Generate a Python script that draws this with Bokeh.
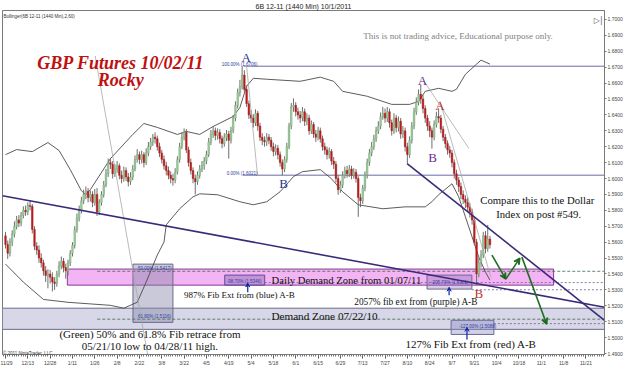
from bokeh.plotting import figure
from bokeh.models import (Range1d, FixedTicker, PrintfTickFormatter, Label,
                          Arrow, VeeHead, ColumnDataSource)
from bokeh.embed import file_html
from bokeh.resources import INLINE

# ---------------- daily OHLC, 6B 12-11, one entry per bar (bar 0 = 11/29/2010) ----------------
opens = [1.5640, 1.5585, 1.5530, 1.5600, 1.5650, 1.5700, 1.5740, 1.5720, 1.5770, 1.5800,
         1.5790, 1.5830, 1.5825, 1.5680, 1.5575, 1.5550, 1.5500, 1.5470, 1.5420, 1.5390,
         1.5400, 1.5380, 1.5350, 1.5340, 1.5400, 1.5450, 1.5480, 1.5440, 1.5420, 1.5470,
         1.5530, 1.5580, 1.5680, 1.5750, 1.5800, 1.5860, 1.5900, 1.5920, 1.5880, 1.5900,
         1.5850, 1.5900, 1.5790, 1.5850, 1.5900, 1.5960, 1.6030, 1.6100, 1.6090, 1.6030,
         1.6060, 1.6080, 1.6020, 1.6000, 1.6050, 1.6010, 1.5980, 1.6010, 1.6060, 1.6120,
         1.6150, 1.6120, 1.6150, 1.6100, 1.6160, 1.6200, 1.6230, 1.6260, 1.6250, 1.6200,
         1.6160, 1.6120, 1.6080, 1.6050, 1.6020, 1.6000, 1.5990, 1.6040, 1.6120, 1.6200,
         1.6260, 1.6290, 1.6180, 1.6100, 1.6050, 1.6000, 1.5980, 1.6020, 1.6060, 1.6080,
         1.6110, 1.6150, 1.6230, 1.6280, 1.6300, 1.6270, 1.6290, 1.6250, 1.6220, 1.6260,
         1.6280, 1.6240, 1.6300, 1.6380, 1.6460, 1.6540, 1.6580, 1.6650, 1.6560, 1.6470,
         1.6400, 1.6380, 1.6350, 1.6410, 1.6330, 1.6260, 1.6240, 1.6230, 1.6260, 1.6240,
         1.6200, 1.6170, 1.6190, 1.6150, 1.6100, 1.6060, 1.6120, 1.6200, 1.6330, 1.6450,
         1.6460, 1.6420, 1.6400, 1.6380, 1.6420, 1.6360, 1.6380, 1.6300, 1.6340, 1.6280,
         1.6260, 1.6300, 1.6250, 1.6200, 1.6180, 1.6150, 1.6170, 1.6110, 1.6090, 1.6000,
         1.5930, 1.5960, 1.6020, 1.6050, 1.6030, 1.6060, 1.6020, 1.6040, 1.6000, 1.5880,
         1.5860, 1.5940, 1.6020, 1.6100, 1.6160, 1.6200, 1.6250, 1.6300, 1.6330, 1.6390,
         1.6410, 1.6380, 1.6420, 1.6350, 1.6300, 1.6380, 1.6320, 1.6360, 1.6280, 1.6300,
         1.6200, 1.6150, 1.6240, 1.6330, 1.6420, 1.6480, 1.6530, 1.6500, 1.6440, 1.6380,
         1.6330, 1.6300, 1.6260, 1.6340, 1.6390, 1.6380, 1.6310, 1.6260, 1.6220, 1.6180,
         1.6160, 1.6100, 1.6030, 1.5990, 1.5950, 1.5900, 1.5870, 1.5850, 1.5820, 1.5790,
         1.5740, 1.5600, 1.5400, 1.5470, 1.5520, 1.5640, 1.5560, 1.5620]
highs = [1.5665, 1.5610, 1.5625, 1.5675, 1.5730, 1.5765, 1.5770, 1.5790, 1.5825, 1.5830,
         1.5850, 1.5865, 1.5840, 1.5700, 1.5600, 1.5580, 1.5530, 1.5490, 1.5450, 1.5430,
         1.5425, 1.5410, 1.5380, 1.5420, 1.5480, 1.5510, 1.5500, 1.5465, 1.5490, 1.5550,
         1.5600, 1.5700, 1.5780, 1.5830, 1.5885, 1.5930, 1.5950, 1.5940, 1.5925, 1.5920,
         1.5935, 1.5940, 1.5870, 1.5920, 1.5985, 1.6060, 1.6125, 1.6130, 1.6110, 1.6090,
         1.6110, 1.6095, 1.6050, 1.6075, 1.6070, 1.6035, 1.6040, 1.6085, 1.6145, 1.6185,
         1.6170, 1.6175, 1.6165, 1.6190, 1.6230, 1.6255, 1.6280, 1.6290, 1.6270, 1.6225,
         1.6180, 1.6145, 1.6105, 1.6075, 1.6045, 1.6030, 1.6065, 1.6140, 1.6225, 1.6290,
         1.6315, 1.6310, 1.6200, 1.6125, 1.6070, 1.6025, 1.6045, 1.6085, 1.6110, 1.6135,
         1.6175, 1.6255, 1.6305, 1.6330, 1.6320, 1.6315, 1.6310, 1.6270, 1.6285, 1.6305,
         1.6300, 1.6325, 1.6400, 1.6485, 1.6565, 1.6620, 1.6706, 1.6680, 1.6585, 1.6490,
         1.6430, 1.6405, 1.6435, 1.6425, 1.6350, 1.6285, 1.6265, 1.6285, 1.6280, 1.6260,
         1.6225, 1.6215, 1.6210, 1.6170, 1.6120, 1.6140, 1.6225, 1.6350, 1.6475, 1.6504,
         1.6480, 1.6445, 1.6425, 1.6450, 1.6440, 1.6410, 1.6400, 1.6365, 1.6355, 1.6305,
         1.6325, 1.6320, 1.6270, 1.6225, 1.6200, 1.6195, 1.6185, 1.6135, 1.6110, 1.6020,
         1.5985, 1.6045, 1.6075, 1.6080, 1.6085, 1.6080, 1.6065, 1.6060, 1.6015, 1.5905,
         1.5960, 1.6045, 1.6125, 1.6185, 1.6230, 1.6275, 1.6325, 1.6360, 1.6415, 1.6450,
         1.6440, 1.6450, 1.6440, 1.6370, 1.6410, 1.6400, 1.6390, 1.6380, 1.6330, 1.6320,
         1.6225, 1.6265, 1.6355, 1.6445, 1.6510, 1.6560, 1.6592, 1.6525, 1.6460, 1.6400,
         1.6360, 1.6320, 1.6365, 1.6420, 1.6441, 1.6400, 1.6330, 1.6280, 1.6240, 1.6205,
         1.6180, 1.6120, 1.6055, 1.6010, 1.5975, 1.5925, 1.5895, 1.5880, 1.5845, 1.5810,
         1.5760, 1.5620, 1.5500, 1.5550, 1.5665, 1.5670, 1.5708, 1.5640]
lows = [1.5560, 1.5495, 1.5510, 1.5575, 1.5630, 1.5680, 1.5695, 1.5700, 1.5750, 1.5765,
        1.5770, 1.5800, 1.5655, 1.5550, 1.5520, 1.5470, 1.5440, 1.5390, 1.5350, 1.5310,
        1.5340, 1.5290, 1.5300, 1.5320, 1.5380, 1.5430, 1.5410, 1.5370, 1.5390, 1.5450,
        1.5510, 1.5560, 1.5660, 1.5730, 1.5780, 1.5840, 1.5870, 1.5850, 1.5855, 1.5820,
        1.5830, 1.5765, 1.5770, 1.5830, 1.5880, 1.5945, 1.6010, 1.6060, 1.6000, 1.6010,
        1.6035, 1.5995, 1.5970, 1.5980, 1.5985, 1.5950, 1.5960, 1.5990, 1.6045, 1.6100,
        1.6090, 1.6095, 1.6070, 1.6085, 1.6140, 1.6180, 1.6205, 1.6220, 1.6175, 1.6135,
        1.6095, 1.6055, 1.6020, 1.5995, 1.5970, 1.5955, 1.5970, 1.6025, 1.6100, 1.6185,
        1.6240, 1.6160, 1.6075, 1.6025, 1.5970, 1.5900, 1.5960, 1.6000, 1.6040, 1.6055,
        1.6090, 1.6135, 1.6210, 1.6255, 1.6240, 1.6245, 1.6220, 1.6190, 1.6200, 1.6235,
        1.6125, 1.6220, 1.6285, 1.6360, 1.6440, 1.6515, 1.6560, 1.6540, 1.6450, 1.6375,
        1.6350, 1.6320, 1.6330, 1.6300, 1.6235, 1.6210, 1.6200, 1.6205, 1.6215, 1.6175,
        1.6140, 1.6145, 1.6120, 1.6075, 1.6021, 1.6040, 1.6100, 1.6185, 1.6310, 1.6420,
        1.6390, 1.6370, 1.6350, 1.6360, 1.6330, 1.6335, 1.6275, 1.6280, 1.6255, 1.6230,
        1.6240, 1.6225, 1.6175, 1.6150, 1.6120, 1.6125, 1.6085, 1.6060, 1.5975, 1.5898,
        1.5910, 1.5940, 1.6000, 1.6005, 1.6010, 1.5995, 1.6000, 1.5975, 1.5759, 1.5820,
        1.5840, 1.5920, 1.6000, 1.6080, 1.6140, 1.6180, 1.6230, 1.6280, 1.6310, 1.6370,
        1.6350, 1.6355, 1.6320, 1.6270, 1.6280, 1.6290, 1.6295, 1.6250, 1.6255, 1.6170,
        1.6094, 1.6130, 1.6220, 1.6310, 1.6400, 1.6460, 1.6470, 1.6410, 1.6350, 1.6300,
        1.6260, 1.6188, 1.6240, 1.6320, 1.6350, 1.6285, 1.6235, 1.6190, 1.6150, 1.6130,
        1.6070, 1.6000, 1.5960, 1.5915, 1.5870, 1.5840, 1.5815, 1.5790, 1.5755, 1.5710,
        1.5580, 1.5330, 1.5380, 1.5440, 1.5500, 1.5530, 1.5540, 1.5560]
closes = [1.5585, 1.5530, 1.5600, 1.5650, 1.5700, 1.5740, 1.5720, 1.5770, 1.5800, 1.5790,
          1.5830, 1.5825, 1.5680, 1.5575, 1.5550, 1.5500, 1.5470, 1.5420, 1.5390, 1.5400,
          1.5380, 1.5350, 1.5340, 1.5400, 1.5450, 1.5480, 1.5440, 1.5420, 1.5470, 1.5530,
          1.5580, 1.5680, 1.5750, 1.5800, 1.5860, 1.5900, 1.5920, 1.5880, 1.5900, 1.5850,
          1.5900, 1.5790, 1.5850, 1.5900, 1.5960, 1.6030, 1.6100, 1.6090, 1.6030, 1.6060,
          1.6080, 1.6020, 1.6000, 1.6050, 1.6010, 1.5980, 1.6010, 1.6060, 1.6120, 1.6150,
          1.6120, 1.6150, 1.6100, 1.6160, 1.6200, 1.6230, 1.6260, 1.6250, 1.6200, 1.6160,
          1.6120, 1.6080, 1.6050, 1.6020, 1.6000, 1.5990, 1.6040, 1.6120, 1.6200, 1.6260,
          1.6290, 1.6180, 1.6100, 1.6050, 1.6000, 1.5980, 1.6020, 1.6060, 1.6080, 1.6110,
          1.6150, 1.6230, 1.6280, 1.6300, 1.6270, 1.6290, 1.6250, 1.6220, 1.6260, 1.6280,
          1.6240, 1.6300, 1.6380, 1.6460, 1.6540, 1.6580, 1.6650, 1.6560, 1.6470, 1.6400,
          1.6380, 1.6350, 1.6410, 1.6330, 1.6260, 1.6240, 1.6230, 1.6260, 1.6240, 1.6200,
          1.6170, 1.6190, 1.6150, 1.6100, 1.6060, 1.6120, 1.6200, 1.6330, 1.6450, 1.6460,
          1.6420, 1.6400, 1.6380, 1.6420, 1.6360, 1.6380, 1.6300, 1.6340, 1.6280, 1.6260,
          1.6300, 1.6250, 1.6200, 1.6180, 1.6150, 1.6170, 1.6110, 1.6090, 1.6000, 1.5930,
          1.5960, 1.6020, 1.6050, 1.6030, 1.6060, 1.6020, 1.6040, 1.6000, 1.5880, 1.5860,
          1.5940, 1.6020, 1.6100, 1.6160, 1.6200, 1.6250, 1.6300, 1.6330, 1.6390, 1.6410,
          1.6380, 1.6420, 1.6350, 1.6300, 1.6380, 1.6320, 1.6360, 1.6280, 1.6300, 1.6200,
          1.6150, 1.6240, 1.6330, 1.6420, 1.6480, 1.6530, 1.6500, 1.6440, 1.6380, 1.6330,
          1.6300, 1.6260, 1.6340, 1.6390, 1.6380, 1.6310, 1.6260, 1.6220, 1.6180, 1.6160,
          1.6100, 1.6030, 1.5990, 1.5950, 1.5900, 1.5870, 1.5850, 1.5820, 1.5790, 1.5740,
          1.5600, 1.5400, 1.5470, 1.5520, 1.5640, 1.5560, 1.5620, 1.5584]

# ---------------- Bollinger band readings (bar index, price) ----------------
upper_bars = [0, 5, 12, 19, 24, 29, 34, 36, 38, 47, 57, 62, 68, 77, 81, 87, 93, 102, 105, 108,
              111, 117, 132, 141, 147, 151, 162, 173, 181, 185, 188, 194, 200, 202, 206, 211, 213, 217]
upper_band = [1.6150, 1.6182, 1.6169, 1.6226, 1.6176, 1.6056, 1.5923, 1.5898, 1.5930, 1.6125,
              1.6277, 1.6346, 1.6321, 1.6277, 1.6296, 1.6277, 1.6327, 1.6390, 1.6447, 1.6580,
              1.6630, 1.6624, 1.6611, 1.6637, 1.6611, 1.6548, 1.6517, 1.6466, 1.6466, 1.6485,
              1.6548, 1.6567, 1.6548, 1.6561, 1.6655, 1.6719, 1.6744, 1.6719]
lower_bars = [0, 8, 17, 28, 47, 53, 59, 63, 68, 71, 72, 78, 84, 87, 95, 105, 111, 117, 123, 129,
              133, 141, 146, 151, 158, 169, 179, 188, 191, 194, 200, 203, 206, 209, 212, 215, 217]
lower_band = [1.5462, 1.5349, 1.5240, 1.5222, 1.5203, 1.5185, 1.5222, 1.5349, 1.5519, 1.5601,
              1.5709, 1.5810, 1.5885, 1.5904, 1.5898, 1.5854, 1.5835, 1.5854, 1.5917, 1.6012,
              1.6043, 1.6056, 1.5999, 1.5917, 1.5835, 1.5810, 1.5822, 1.5822, 1.5854, 1.5898,
              1.5967, 1.5885, 1.5759, 1.5633, 1.5506, 1.5412, 1.5361]

# ---------------- axes ----------------
tick_bars = [0, 10, 20, 30, 40, 50, 60, 70, 80, 90, 100, 110, 120, 130, 140, 150, 160, 170,
             180, 190, 200, 210, 220, 230, 240, 250, 260]
tick_labels = ["11/29", "12/13", "12/28", "1/11", "1/26", "2/8", "2/22", "3/8", "3/22", "4/5",
               "4/19", "5/4", "5/18", "6/1", "6/15", "6/29", "7/13", "7/27", "8/10", "8/24",
               "9/7", "9/21", "10/4", "10/18", "11/1", "11/8", "11/21"]
price_ticks = [1.49, 1.50, 1.51, 1.52, 1.53, 1.54, 1.55, 1.56, 1.57, 1.58, 1.59,
               1.60, 1.61, 1.62, 1.63, 1.64, 1.65, 1.66, 1.67, 1.68, 1.69, 1.70]
axis_marks = [1.6722, 1.5584, 1.5381]

# ---------------- drawn objects (bar index / price) ----------------
zone_left = [-1.4, 27.7, 57.1, 98.2, 188.8, 199.6]
zone_right = [268.4, 245.5, 75.0, 116.1, 208.9, 218.75]
zone_bottom = [1.5052, 1.5330, 1.5096, 1.5330, 1.5305, 1.5020]
zone_top = [1.5185, 1.5431, 1.5462, 1.5393, 1.5393, 1.5109]
zone_fill = ["#d7d7e8", "#f2b4f2", "#8888aa", "#8a6ab8", "#8a6ab8", "#8a8ac0"]
zone_alpha = [1.0, 1.0, 0.45, 0.45, 0.35, 0.4]
zone_line = ["#6a6a8c", "#8a3a9a", "#6a6a8a", "#6a4a9a", "#6a6a8a", "#6a6a9a"]

trend_x0 = [-1.34, 179.9]
trend_y0 = [1.5892, 1.6094]
trend_x1 = [268.3, 268.3]
trend_y1 = [1.5191, 1.5109]

fib_x0 = [106.7, 106.3]
fib_levels = [1.6706, 1.6021]
retr_x0 = [41.1, 41.1]
retr_levels = [1.5417, 1.5116]
ext_x0 = [116.1, 208.9, 218.75]
ext_levels = [1.5346, 1.5301, 1.5088]

thin_x0 = [40.2, 108.0, 187.5, 194.6]
thin_y0 = [1.6770, 1.6706, 1.6611, 1.6485]
thin_x1 = [63.8, 112.9, 207.6, 217.4]
thin_y1 = [1.4882, 1.6018, 1.6188, 1.5380]

garrow_x0 = [217.9, 224.1, 231.3]
garrow_y0 = [1.5519, 1.5368, 1.5506]
garrow_x1 = [224.1, 230.4, 242.4]
garrow_y1 = [1.5368, 1.5500, 1.5084]

barrow_x = [108.5, 198.7, 206.7]
barrow_y0 = [1.5286, 1.5267, 1.4989]
barrow_y1 = [1.5343, 1.5317, 1.5065]

note_text = ["GBP Futures 10/02/11", "Rocky",
             "This is not trading advice, Educational purpose only.",
             "Compare this to the Dollar", "Index on post #549.",
             "Daily Demand Zone from 01/07/11", "Demand Zone 07/22/10",
             "987% Fib Ext from (blue) A-B", "2057% fib ext from (purple) A-B",
             "(Green) 50% and 61.8% Fib retrace from", "05/21/10 low to 04/28/11 high.",
             "127% Fib Ext from (red) A-B",
             "A", "B", "A", "A", "B", "B"]
note_x = [51.6, 51.6, 202.7, 238.2, 238.8, 152.7, 142.9, 104.9, 183.9, 64.7, 64.7, 208.5,
          107.8, 124.6, 186.8, 194.6, 191.3, 212.0]
note_y = [1.6729, 1.6620, 1.6893, 1.5863, 1.5775, 1.5361, 1.5135, 1.5267, 1.5222, 1.5021,
          1.4946, 1.4959, 1.6761, 1.5970, 1.6616, 1.6459, 1.6133, 1.5275]
note_size = ["18px", "18px", "9px", "10.7px", "10.7px", "10.6px", "11.2px", "9px", "9.3px", "11px",
             "11px", "11px", "13px", "13px", "13px", "13px", "13px", "13px"]
note_color = ["#c01010", "#c01010", "#808080", "#111111", "#111111", "#111111", "#111111",
              "#111111", "#111111", "#111111", "#111111", "#111111",
              "#27338f", "#27338f", "#6b2c91", "#c0302f", "#6b2c91", "#c0302f"]
note_style = ["bold italic", "bold italic"] + ["normal"] * 16

small_text = ["100.00% (1.6706)", "0.00% (1.6021)", "50.00% (1.5417)", "61.80% (1.5116)",
              "-98.70% (1.5346)", "-205.70% (1.5301)", "-127.00% (1.5088)",
              "Bollinger(6B 12-11 (1440 Min),2,60)", "\u00a9 2011 NinjaTrader, LLC"]
small_x = [112.9, 112.9, 59.4, 59.4, 99.1, 190.6, 203.1, -0.9, -1.1]
small_y = [1.6717, 1.6033, 1.5436, 1.5135, 1.5354, 1.5348, 1.5072, 1.7018, 1.4903]
small_align = ["right", "right", "left", "left", "left", "left", "left", "left", "left"]
small_color = ["#3040a0"] * 7 + ["#333333", "#333333"]

INC = "#9dcf9d"
DEC = "#b41e1e"

bars = list(range(len(closes)))
src = ColumnDataSource(dict(
    x=bars, h=highs, l=lows,
    top=[max(o, c) for o, c in zip(opens, closes)],
    bot=[min(o, c) for o, c in zip(opens, closes)],
    col=[INC if c >= o else DEC for o, c in zip(opens, closes)],
    edge=["#7aa87a" if c >= o else DEC for o, c in zip(opens, closes)],
))

p = figure(width=625, height=371, x_range=Range1d(-1.34, 268.3), y_range=Range1d(1.4894, 1.7056),
           y_axis_location="right", output_backend="svg", toolbar_location=None,
           min_border_left=2, min_border_right=19, min_border_top=10, min_border_bottom=17,
           title="6B 12-11 (1440 Min) 10/1/2011")
p.title.align = "center"
p.title.text_font = "Liberation Sans"
p.title.text_font_size = "7px"
p.title.text_font_style = "normal"
p.title.text_color = "#222222"
p.title.standoff = 1
p.title.offset = 5
p.background_fill_color = "white"
p.border_fill_color = "white"
p.outline_line_color = "#7a7a7a"
p.grid.visible = False

zsrc = ColumnDataSource(dict(left=zone_left, right=zone_right, bottom=zone_bottom, top=zone_top,
                             fill=zone_fill, alpha=zone_alpha, line=zone_line))
p.quad(left="left", right="right", bottom="bottom", top="top", fill_color="fill",
       fill_alpha="alpha", line_color="line", line_width=1, source=zsrc)

# fib / retrace level lines
p.segment(x0=fib_x0, y0=fib_levels, x1=[268.3] * len(fib_levels), y1=fib_levels,
          line_color="#6a6aa6", line_width=1)
p.segment(x0=retr_x0, y0=retr_levels, x1=[268.3] * len(retr_levels), y1=retr_levels,
          line_color="#3f6a4c", line_width=0.8, line_dash="3 2")
p.segment(x0=ext_x0, y0=ext_levels, x1=[268.3] * len(ext_levels), y1=ext_levels,
          line_color="#6a5a90", line_width=0.8, line_dash="2 2")

# Bollinger bands
p.line(upper_bars, upper_band, line_color="#4a4a4a", line_width=0.9)
p.line(lower_bars, lower_band, line_color="#4a4a4a", line_width=0.9)

# candles
p.segment(x0="x", y0="h", x1="x", y1="l", source=src, line_color="#6e6e6e", line_width=1)
p.vbar(x="x", width=0.72, top="top", bottom="bot", fill_color="col", line_color="edge",
       line_width=0.5, source=src)

# thin anchor lines
p.segment(x0=thin_x0, y0=thin_y0, x1=thin_x1, y1=thin_y1, line_color="#a8a8a8", line_width=0.8)

# trend lines
p.segment(x0=trend_x0, y0=trend_y0, x1=trend_x1, y1=trend_y1, line_color="#3b2a78", line_width=1.6)

for x0, y0, x1, y1 in zip(garrow_x0, garrow_y0, garrow_x1, garrow_y1):
    p.add_layout(Arrow(end=VeeHead(size=6, line_color="#1f6e1f", line_width=1.5),
                       x_start=x0, y_start=y0, x_end=x1, y_end=y1,
                       line_color="#1f6e1f", line_width=1.6))
for x, y0, y1 in zip(barrow_x, barrow_y0, barrow_y1):
    p.add_layout(Arrow(end=VeeHead(size=4, line_color="#1a2fb0", line_width=1),
                       x_start=x, y_start=y0, x_end=x, y_end=y1,
                       line_color="#1a2fb0", line_width=1.3))

for t, x, y, s, c, st in zip(note_text, note_x, note_y, note_size, note_color, note_style):
    p.add_layout(Label(x=x, y=y, text=t, text_font="Liberation Serif", text_font_size=s,
                       text_color=c, text_font_style=st, text_align="center",
                       text_baseline="alphabetic"))
for t, x, y, a, c in zip(small_text, small_x, small_y, small_align, small_color):
    p.add_layout(Label(x=x, y=y, text=t, text_font="Liberation Sans", text_font_size="4.5px",
                       text_color=c, text_align=a, text_baseline="alphabetic"))

p.add_layout(Label(x=265.5, y=1.6993, text="\u25b7|", text_font="DejaVu Sans",
                   text_font_size="8px", text_color="#666666", text_align="center",
                   text_baseline="alphabetic"))
for v in axis_marks:
    p.add_layout(Label(x=605, x_units="screen", y=v, text="%.4f" % v, text_font="Liberation Sans",
                       text_font_size="5px", text_color="white", background_fill_color="black",
                       text_align="left", text_baseline="middle"))

yax = p.yaxis[0]
yax.ticker = FixedTicker(ticks=price_ticks)
yax.formatter = PrintfTickFormatter(format="%.4f")
yax.major_label_text_font = "Liberation Sans"
yax.major_label_text_font_size = "5px"
yax.major_label_text_color = "#444444"
yax.major_tick_out = 2
yax.major_tick_in = 0
yax.minor_tick_out = 0
yax.minor_tick_in = 0
yax.major_label_standoff = 1
yax.axis_line_color = "#7a7a7a"
yax.major_tick_line_color = "#7a7a7a"

xax = p.xaxis[0]
xax.ticker = FixedTicker(ticks=tick_bars, minor_ticks=list(range(-1, 269)))
xax.major_label_overrides = {b: lab for b, lab in zip(tick_bars, tick_labels)}
xax.major_label_text_font = "Liberation Sans"
xax.major_label_text_font_size = "5px"
xax.major_label_text_color = "#444444"
xax.major_tick_out = 4
xax.major_tick_in = 0
xax.minor_tick_out = 2
xax.minor_tick_in = 0
xax.major_label_standoff = 1
xax.axis_line_color = "#7a7a7a"
xax.major_tick_line_color = "#555555"
xax.minor_tick_line_color = "#777777"

open("out.html", "w").write(file_html(p, INLINE))
